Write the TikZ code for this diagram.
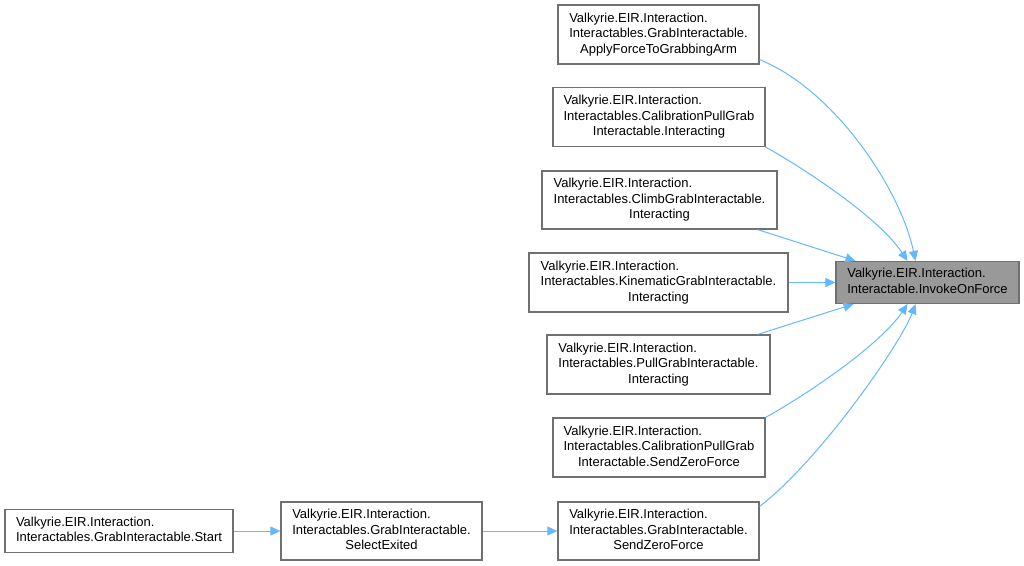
\documentclass[tikz,border=0pt]{standalone}
\usepackage{fontspec}
\setmainfont{Liberation Sans}
\usetikzlibrary{arrows.meta}
\definecolor{edgeblue}{HTML}{63B8FF}
\definecolor{boxgray}{HTML}{707070}
\definecolor{tgtfill}{HTML}{999999}
\newcommand\lblthree[3]{\begin{tabular}{@{}l@{}}#1\\#2\\\multicolumn{1}{@{}c@{}}{#3}\end{tabular}}
\newcommand\lbltwo[2]{\begin{tabular}{@{}l@{}}#1\\\multicolumn{1}{@{}c@{}}{#2}\end{tabular}}
\tikzset{
  fn/.style={draw=boxgray, fill=white, line width=1.2pt, inner sep=0pt, minimum height=59pt,
    font=\fontsize{13}{15.5}\selectfont, text=black},
  tgtbox/.style={fn, fill=tgtfill, minimum height=42pt},
  calls/.style={draw=edgeblue, line width=1pt, -{Triangle[length=10pt,width=9pt,fill=edgeblue]}}
}
\begin{document}
\begin{tikzpicture}[x=1pt,y=-1pt]
\useasboundingbox (0,0) rectangle (1024,565);
\node[tgtbox, minimum width=183pt] (tgt) at (927.5,282.5) {\lbltwo{Valkyrie.EIR.Interaction.}{Interactable.InvokeOnForce}};
\node[fn, minimum width=201pt] (n1) at (658.5,34.5) {\lblthree{Valkyrie.EIR.Interaction.}{Interactables.GrabInteractable.}{ApplyForceToGrabbingArm}};
\node[fn, minimum width=212pt] (n2) at (659,117) {\lblthree{Valkyrie.EIR.Interaction.}{Interactables.CalibrationPullGrab}{Interactable.Interacting}};
\node[fn, minimum width=235pt, minimum height=58pt] (n3) at (659.5,200) {\lblthree{Valkyrie.EIR.Interaction.}{Interactables.ClimbGrabInteractable.}{Interacting}};
\node[fn, minimum width=259pt] (n4) at (658.5,282.5) {\lblthree{Valkyrie.EIR.Interaction.}{Interactables.KinematicGrabInteractable.}{Interacting}};
\node[fn, minimum width=223pt] (n5) at (658.5,364.5) {\lblthree{Valkyrie.EIR.Interaction.}{Interactables.PullGrabInteractable.}{Interacting}};
\node[fn, minimum width=212pt] (n6) at (659,447.5) {\lblthree{Valkyrie.EIR.Interaction.}{Interactables.CalibrationPullGrab}{Interactable.SendZeroForce}};
\node[fn, minimum width=201pt, minimum height=58pt] (n7) at (658.5,531) {\lblthree{Valkyrie.EIR.Interaction.}{Interactables.GrabInteractable.}{SendZeroForce}};
\node[fn, minimum width=201pt, minimum height=58pt] (n8) at (381.5,531) {\lblthree{Valkyrie.EIR.Interaction.}{Interactables.GrabInteractable.}{SelectExited}};
\node[fn, minimum width=228pt, minimum height=43pt] (n9) at (119,531) {\lbltwo{Valkyrie.EIR.Interaction.}{Interactables.GrabInteractable.Start}};

\draw[calls] ([yshift=5pt]n1.south east) .. controls +(76,31) and +(-15,-71) .. ([xshift=-12pt]tgt.north);
\draw[calls] (n2.south east) .. controls +(45,25) and +(-27,-41) .. ([xshift=-20pt]tgt.north);
\draw[calls] ([xshift=-20pt]n3.south east) -- ([xshift=-72pt]tgt.north);
\draw[calls] (n4.east) -- (tgt.west);
\draw[calls] ([xshift=-13pt]n5.north east) -- ([xshift=-74pt]tgt.south);
\draw[calls] (n6.north east) .. controls +(45,-25) and +(-27,40) .. ([xshift=-20pt]tgt.south);
\draw[calls] ([yshift=-5pt]n7.north east) .. controls +(60,-46) and +(-15,40) .. ([xshift=-12pt]tgt.south);
\draw[calls] (n9.east) -- (n8.west);
\draw[calls] (n8.east) -- (n7.west);
\end{tikzpicture}
\end{document}
